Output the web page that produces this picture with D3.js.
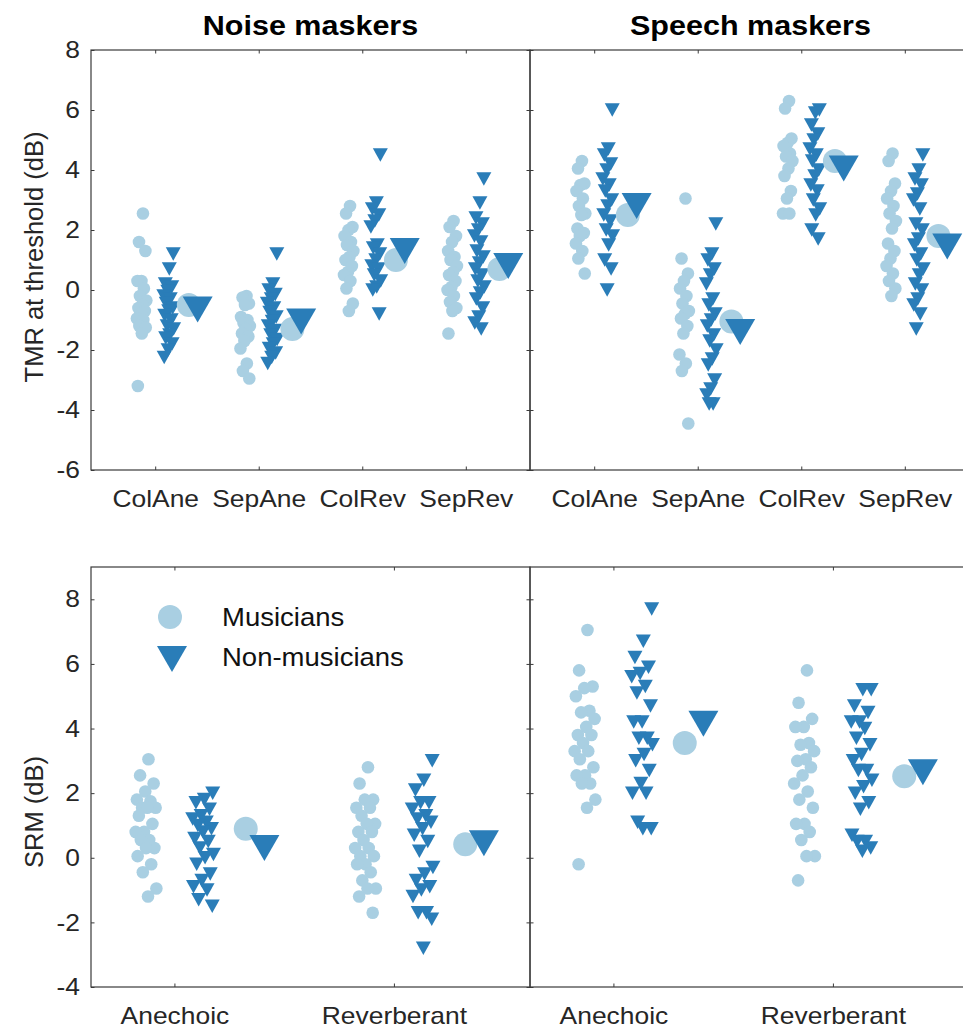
<!DOCTYPE html>
<html><head><meta charset="utf-8">
<script src="https://cdn.jsdelivr.net/npm/d3@7"></script>
<style>body{margin:0;background:#fff}svg{display:block}</style>
</head><body>
<svg id="c" width="963" height="1029"></svg>
<script>
// ---------------- DATA ----------------
const titles = ["Noise maskers", "Speech maskers"];
const topCategories = ["ColAne", "SepAne", "ColRev", "SepRev"];
const bottomCategories = ["Anechoic", "Reverberant"];
const topTicks = [-6, -4, -2, 0, 2, 4, 6, 8];
const bottomTicks = [-4, -2, 0, 2, 4, 6, 8];
const legendLabels = ["Musicians", "Non-musicians"];

// TMR at threshold (dB), noise maskers
const noiseTMR_musicians = [
  [2.55, 1.6, 1.3, 0.3, 0.3, 0.05, -0.2, -0.35, -0.5, -0.6, -0.7, -0.8, -0.95, -1.0, -1.2, -1.25, -1.45, -3.2],
  [-0.2, -0.25, -0.45, -0.5, -0.9, -1.0, -1.1, -1.2, -1.3, -1.45, -1.55, -1.7, -1.95, -2.45, -2.7, -2.95],
  [2.8, 2.55, 2.1, 2.0, 1.8, 1.6, 1.5, 1.3, 1.1, 1.0, 0.8, 0.6, 0.5, 0.3, 0.05, -0.45, -0.7],
  [2.3, 2.1, 1.8, 1.6, 1.3, 1.1, 1.0, 0.8, 0.6, 0.5, 0.3, 0.1, 0.0, -0.2, -0.4, -0.6, -0.7, -1.45]
];
const noiseTMR_nonmusicians = [
  [1.2, 0.7, 0.2, 0.1, -0.05, -0.2, -0.3, -0.45, -0.6, -0.7, -0.85, -1.0, -1.2, -1.3, -1.5, -1.6, -1.8, -2.0, -2.25],
  [1.2, 0.2, 0.0, -0.15, -0.3, -0.45, -0.6, -0.75, -0.9, -1.05, -1.2, -1.35, -1.5, -1.65, -1.8, -1.95, -2.1, -2.25, -2.45],
  [4.5, 2.9, 2.7, 2.5, 2.3, 2.1, 1.5, 1.4, 1.2, 1.0, 0.8, 0.7, 0.5, 0.3, 0.1, 0.0, -0.8],
  [3.7, 2.9, 2.4, 2.2, 2.0, 1.8, 1.6, 1.3, 1.1, 0.9, 0.7, 0.5, 0.3, 0.1, -0.1, -0.3, -0.6, -0.9, -1.1, -1.3]
];
const noiseTMR_meanMusicians = [-0.5, -1.3, 1.0, 0.7];
const noiseTMR_meanNonmusicians = [-0.65, -1.05, 1.3, 0.8];

// TMR at threshold (dB), speech maskers
const speechTMR_musicians = [
  [4.3, 4.05, 3.55, 3.5, 3.3, 3.05, 2.8, 2.55, 2.5, 2.05, 1.9, 1.8, 1.55, 1.3, 1.05, 0.55],
  [3.05, 1.05, 0.55, 0.3, 0.05, -0.2, -0.45, -0.7, -0.8, -0.95, -1.2, -1.45, -2.15, -2.45, -2.7, -4.45],
  [6.3, 6.05, 5.05, 4.9, 4.8, 4.55, 4.45, 4.3, 4.05, 3.8, 3.3, 3.05, 2.55, 2.55],
  [4.55, 4.3, 3.55, 3.3, 3.05, 2.8, 2.55, 2.3, 2.05, 1.55, 1.3, 1.05, 0.8, 0.55, 0.3, 0.05, -0.2]
];
const speechTMR_nonmusicians = [
  [6.0, 4.7, 4.5, 4.2, 4.0, 3.7, 3.5, 3.3, 3.0, 2.8, 2.5, 2.3, 2.0, 1.8, 1.5, 1.0, 0.7, 0.0],
  [2.2, 1.2, 1.0, 0.7, 0.5, 0.2, -0.3, -0.5, -0.8, -1.0, -1.2, -1.5, -1.7, -2.0, -2.3, -2.5, -3.0, -3.3, -3.5, -3.8, -3.8],
  [6.0, 5.9, 5.5, 5.2, 5.0, 4.7, 4.5, 4.3, 4.0, 3.8, 3.5, 3.3, 3.0, 2.7, 2.5, 2.0, 1.7],
  [4.5, 4.0, 3.7, 3.5, 3.2, 3.0, 2.7, 2.2, 2.0, 1.7, 1.5, 1.2, 1.0, 0.7, 0.5, 0.2, 0.0, -0.3, -0.5, -0.8, -1.3]
];
const speechTMR_meanMusicians = [2.5, -1.05, 4.3, 1.8];
const speechTMR_meanNonmusicians = [2.8, -1.4, 4.05, 1.45];

// SRM (dB), noise maskers
const noiseSRM_musicians = [
  [3.05, 2.55, 2.3, 2.05, 1.8, 1.75, 1.55, 1.55, 1.55, 1.3, 1.05, 0.8, 0.8, 0.55, 0.55, 0.3, 0.3, 0.05, -0.2, -0.45, -0.95, -1.2],
  [2.8, 2.3, 1.8, 1.8, 1.55, 1.55, 1.3, 1.05, 1.05, 0.8, 0.8, 0.55, 0.3, 0.3, 0.05, 0.05, -0.2, -0.2, -0.45, -0.7, -0.95, -0.95, -1.2, -1.7]
];
const noiseSRM_nonmusicians = [
  [2.0, 1.8, 1.7, 1.5, 1.3, 1.2, 1.1, 1.0, 0.9, 0.8, 0.6, 0.5, 0.3, 0.1, 0.0, -0.2, -0.5, -0.7, -0.9, -1.0, -1.3, -1.5],
  [3.0, 2.4, 2.1, 1.7, 1.7, 1.5, 1.3, 1.2, 1.1, 0.9, 0.7, 0.5, 0.2, -0.3, -0.5, -0.7, -0.9, -1.0, -1.2, -1.7, -1.7, -1.9, -2.8]
];
const noiseSRM_meanMusicians = [0.9, 0.42];
const noiseSRM_meanNonmusicians = [0.3, 0.45];

// SRM (dB), speech maskers
const speechSRM_musicians = [
  [7.05, 5.8, 5.3, 5.25, 5.0, 4.55, 4.5, 4.3, 4.05, 3.8, 3.8, 3.55, 3.3, 3.3, 3.05, 2.8, 2.55, 2.55, 2.3, 2.3, 1.8, 1.55, -0.2],
  [5.8, 4.8, 4.3, 4.05, 4.05, 3.55, 3.5, 3.3, 3.05, 3.0, 2.8, 2.55, 2.3, 2.05, 1.8, 1.55, 1.05, 1.05, 0.8, 0.55, 0.05, 0.05, -0.7]
];
const speechSRM_nonmusicians = [
  [7.7, 6.7, 6.2, 5.9, 5.7, 5.6, 5.3, 5.1, 4.7, 4.2, 4.2, 3.7, 3.7, 3.5, 3.2, 3.0, 2.7, 2.3, 2.0, 2.0, 1.1, 0.9, 0.9],
  [5.2, 5.2, 4.7, 4.5, 4.2, 4.2, 4.0, 3.7, 3.5, 3.2, 3.0, 2.7, 2.7, 2.4, 2.2, 2.0, 1.7, 1.5, 0.7, 0.5, 0.5, 0.3, 0.2]
];
const speechSRM_meanMusicians = [3.55, 2.52];
const speechSRM_meanNonmusicians = [4.15, 2.65];

// ---------------- STYLE ----------------
const LIGHT = "#a9cfe2", DARK = "#2a7db8", AXIS = "#3a3a3a", TXT = "#262626";
const FONT = "'Liberation Sans', Arial, Helvetica, sans-serif";
const STRETCH = 1.1;

const svg = d3.select("#c");
svg.append("rect").attr("width", 963).attr("height", 1029).attr("fill", "#fff");

function stretch(sel, f) {
  sel.each(function () {
    const w = this.getComputedTextLength();
    d3.select(this).attr("textLength", w * f).attr("lengthAdjust", "spacingAndGlyphs");
  });
}

function triPath(w, h) {
  return `M${-w / 2},${-h / 2}L${w / 2},${-h / 2}L0,${h / 2}Z`;
}

const jitter = i => ((((i + 1) * 0.6180339887) % 1) - 0.5) * 2 * 0.05;

function panel(opt) {
  const { x0, x1, y0, y1, xDomain, yDomain, cats, ticks, mus, non, meanMus, meanNon, showY } = opt;
  const x = d3.scaleLinear().domain(xDomain).range([x0, x1]);
  const y = d3.scaleLinear().domain(yDomain).range([y1, y0]);
  const g = svg.append("g");
  const catIdx = cats.map((c, i) => i + 1);

  mus.forEach((arr, ci) => {
    g.selectAll(null).data(arr).enter().append("circle")
      .attr("cx", (d, i) => x(ci + 1 - 0.13 + jitter(i)))
      .attr("cy", d => y(d)).attr("r", 6.3).attr("fill", LIGHT);
  });
  non.forEach((arr, ci) => {
    g.selectAll(null).data(arr).enter().append("path")
      .attr("d", triPath(15, 13.5))
      .attr("transform", (d, i) => `translate(${x(ci + 1 + 0.13 + jitter(i + 7))},${y(d)})`)
      .attr("fill", DARK);
  });
  g.selectAll(null).data(meanMus).enter().append("circle")
    .attr("cx", (d, i) => x(i + 1 + 0.325)).attr("cy", d => y(d)).attr("r", 12).attr("fill", LIGHT);
  g.selectAll(null).data(meanNon).enter().append("path")
    .attr("d", triPath(30, 26))
    .attr("transform", (d, i) => `translate(${x(i + 1 + 0.41)},${y(d)})`)
    .attr("fill", DARK);

  const TS = -3.5;
  const ax = [
    [d3.axisBottom(x).tickValues(catIdx).tickFormat((d, i) => cats[i]).tickSize(TS).tickPadding(20), `translate(0,${y1})`, true],
    [d3.axisTop(x).tickValues(catIdx).tickFormat("").tickSize(TS), `translate(0,${y0})`, false],
    [d3.axisLeft(y).tickValues(ticks).tickFormat(showY ? (d => String(d)) : "").tickSize(TS).tickPadding(11), `translate(${x0},0)`, showY],
    [d3.axisRight(y).tickValues(ticks).tickFormat("").tickSize(TS), `translate(${x1},0)`, false]
  ];
  ax.forEach(([a, tr, lab]) => {
    const ag = svg.append("g").attr("transform", tr).call(a);
    ag.select(".domain").remove();
    ag.selectAll(".tick line").attr("stroke", AXIS).attr("stroke-width", 1);
    ag.selectAll("text").attr("font-family", FONT).attr("font-size", 24).attr("fill", TXT)
      .attr("font-weight", "normal");
    if (lab) stretch(ag.selectAll("text"), STRETCH);
  });
  svg.append("rect").attr("x", x0).attr("y", y0).attr("width", x1 - x0).attr("height", y1 - y0)
    .attr("fill", "none").attr("stroke", AXIS).attr("stroke-width", 1.2);
  return { x, y };
}

const topY = [50, 470];
panel({ x0: 91, x1: 530, y0: topY[0], y1: topY[1], xDomain: [0.38, 4.62], yDomain: [-6, 8], cats: topCategories, ticks: topTicks,
  mus: noiseTMR_musicians, non: noiseTMR_nonmusicians, meanMus: noiseTMR_meanMusicians, meanNon: noiseTMR_meanNonmusicians, showY: true });
panel({ x0: 530, x1: 969, y0: topY[0], y1: topY[1], xDomain: [0.38, 4.62], yDomain: [-6, 8], cats: topCategories, ticks: topTicks,
  mus: speechTMR_musicians, non: speechTMR_nonmusicians, meanMus: speechTMR_meanMusicians, meanNon: speechTMR_meanNonmusicians, showY: false });
const botY = [567, 987];
panel({ x0: 91, x1: 530, y0: botY[0], y1: botY[1], xDomain: [0.62, 2.62], yDomain: [-4, 9], cats: bottomCategories, ticks: bottomTicks,
  mus: noiseSRM_musicians, non: noiseSRM_nonmusicians, meanMus: noiseSRM_meanMusicians, meanNon: noiseSRM_meanNonmusicians, showY: true });
panel({ x0: 530, x1: 969, y0: botY[0], y1: botY[1], xDomain: [0.62, 2.62], yDomain: [-4, 9], cats: bottomCategories, ticks: bottomTicks,
  mus: speechSRM_musicians, non: speechSRM_nonmusicians, meanMus: speechSRM_meanMusicians, meanNon: speechSRM_meanNonmusicians, showY: false });

[[titles[0], 310.5], [titles[1], 750.5]].forEach(([t, cx]) => {
  const el = svg.append("text").attr("x", cx).attr("y", 35).attr("text-anchor", "middle")
    .attr("font-family", FONT).attr("font-weight", "bold").attr("font-size", 28).attr("fill", "#000").text(t);
  stretch(el, 1.09);
});

[["TMR at threshold (dB)", 257], ["SRM (dB)", 812]].forEach(([t, cy]) => {
  svg.append("text").attr("transform", `translate(43,${cy}) rotate(-90)`).attr("text-anchor", "middle")
    .attr("font-family", FONT).attr("font-size", 25.5).attr("fill", TXT).text(t);
});

svg.append("circle").attr("cx", 170).attr("cy", 617).attr("r", 12).attr("fill", LIGHT);
svg.append("path").attr("d", triPath(30, 26)).attr("transform", "translate(172,659)").attr("fill", DARK);
legendLabels.forEach((t, i) => {
  const el = svg.append("text").attr("x", 222).attr("y", 626 + i * 40)
    .attr("font-family", FONT).attr("font-size", 25).attr("fill", "#111").text(t);
  stretch(el, 1.1);
});
</script>
</body></html>
